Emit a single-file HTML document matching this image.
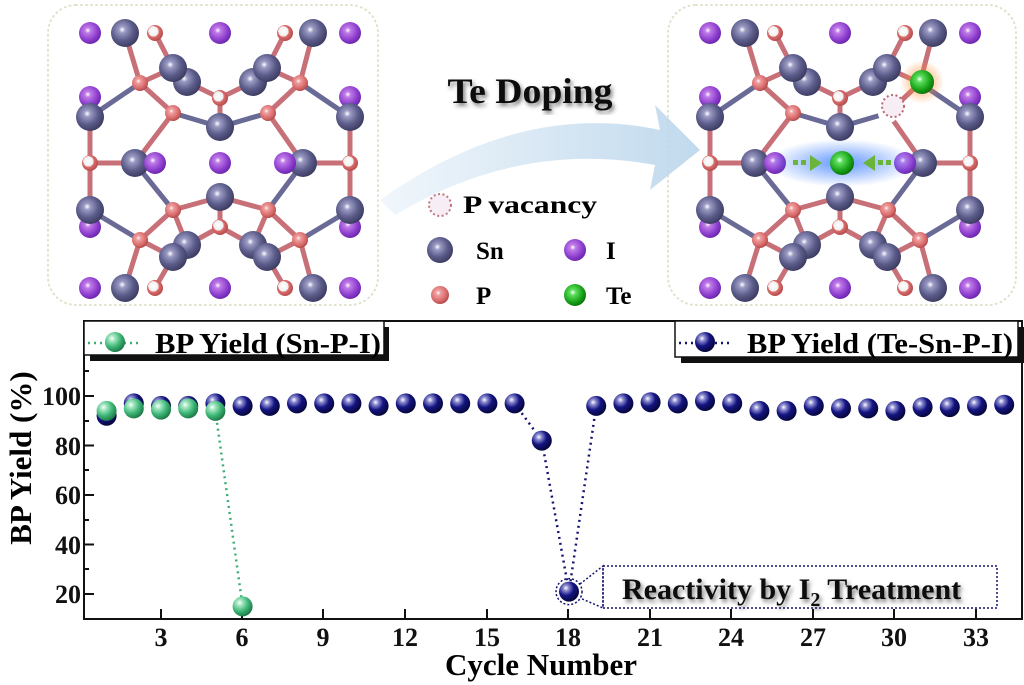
<!DOCTYPE html>
<html><head><meta charset="utf-8"><style>
body{margin:0;background:#fff;}
svg{display:block;font-family:"Liberation Serif",serif;font-weight:bold;}
</style></head><body>
<svg width="1024" height="685" viewBox="0 0 1024 685" xmlns="http://www.w3.org/2000/svg">
<defs>
<radialGradient id="gb" cx="35%" cy="32%" r="70%"><stop offset="0" stop-color="#fff"/><stop offset="0.2" stop-color="#8c8cd0"/><stop offset="0.55" stop-color="#141482"/><stop offset="1" stop-color="#06063a"/></radialGradient>
<radialGradient id="gg" cx="35%" cy="32%" r="70%"><stop offset="0" stop-color="#fff"/><stop offset="0.2" stop-color="#a8e8c4"/><stop offset="0.6" stop-color="#3fb878"/><stop offset="1" stop-color="#1e7a48"/></radialGradient>
<radialGradient id="gsn" cx="40%" cy="38%" r="65%"><stop offset="0" stop-color="#fff"/><stop offset="0.18" stop-color="#9a9ac4"/><stop offset="0.6" stop-color="#5c5c8a"/><stop offset="1" stop-color="#3a3a60"/></radialGradient>
<radialGradient id="gi" cx="40%" cy="38%" r="65%"><stop offset="0" stop-color="#fff"/><stop offset="0.2" stop-color="#c07ae8"/><stop offset="0.7" stop-color="#8a3ccc"/><stop offset="1" stop-color="#6a24a8"/></radialGradient>
<radialGradient id="gp" cx="40%" cy="38%" r="65%"><stop offset="0" stop-color="#fff"/><stop offset="0.2" stop-color="#f0a0a0"/><stop offset="0.7" stop-color="#d86a6a"/><stop offset="1" stop-color="#b04848"/></radialGradient>
<radialGradient id="gpw" cx="40%" cy="40%" r="65%"><stop offset="0" stop-color="#fff"/><stop offset="0.5" stop-color="#eee"/><stop offset="0.5" stop-color="#e07070"/><stop offset="1" stop-color="#b04848"/></radialGradient>
<radialGradient id="gte" cx="40%" cy="38%" r="65%"><stop offset="0" stop-color="#fff"/><stop offset="0.2" stop-color="#5ee05e"/><stop offset="0.7" stop-color="#17a017"/><stop offset="1" stop-color="#0a700a"/></radialGradient>
<radialGradient id="glowO"><stop offset="0" stop-color="#ff8a30" stop-opacity="0.8"/><stop offset="1" stop-color="#ff8a30" stop-opacity="0"/></radialGradient>
<radialGradient id="glowB"><stop offset="0" stop-color="#3a7cff" stop-opacity="0.8"/><stop offset="1" stop-color="#3a7cff" stop-opacity="0"/></radialGradient>
<linearGradient id="arr" x1="0" x2="1"><stop offset="0" stop-color="#eef5fb"/><stop offset="1" stop-color="#b6d3ea"/></linearGradient>
<filter id="sh"><feDropShadow dx="2" dy="3" stdDeviation="2" flood-color="#000" flood-opacity="0.5"/></filter>
<g id="mol">
<g stroke="#c77078" stroke-width="5" stroke-linecap="round">
<line x1="155" y1="33" x2="173" y2="68"/><line x1="125" y1="33" x2="140" y2="83"/><line x1="140" y1="83" x2="173" y2="68"/><line x1="140" y1="83" x2="173" y2="113"/><line x1="140" y1="83" x2="90" y2="117" stroke="#6a6a96"/><line x1="173" y1="113" x2="220" y2="127" stroke="#6a6a96"/><line x1="187" y1="82" x2="220" y2="98"/><line x1="220" y1="98" x2="253" y2="82"/><line x1="220" y1="98" x2="220" y2="127"/><line x1="268" y1="113" x2="220" y2="127" stroke="#6a6a96"/><line x1="268" y1="113" x2="300" y2="83"/><line x1="300" y1="83" x2="267" y2="68"/><line x1="300" y1="83" x2="313" y2="33"/><line x1="285" y1="33" x2="267" y2="68"/><line x1="300" y1="83" x2="350" y2="117" stroke="#6a6a96"/><line x1="90" y1="117" x2="90" y2="210"/><line x1="90" y1="163" x2="135" y2="163"/><line x1="173" y1="113" x2="135" y2="163"/><line x1="268" y1="113" x2="303" y2="163"/><line x1="350" y1="117" x2="350" y2="210"/><line x1="350" y1="163" x2="303" y2="163"/><line x1="135" y1="163" x2="173" y2="210" stroke="#6a6a96"/><line x1="303" y1="163" x2="268" y2="210" stroke="#6a6a96"/><line x1="173" y1="210" x2="220" y2="197"/><line x1="268" y1="210" x2="220" y2="197"/><line x1="220" y1="197" x2="220" y2="227"/><line x1="173" y1="210" x2="140" y2="240"/><line x1="173" y1="210" x2="187" y2="245"/><line x1="140" y1="240" x2="90" y2="210" stroke="#6a6a96"/><line x1="140" y1="240" x2="173" y2="257"/><line x1="140" y1="240" x2="125" y2="288"/><line x1="155" y1="288" x2="173" y2="257"/><line x1="220" y1="227" x2="187" y2="245"/><line x1="220" y1="227" x2="253" y2="245"/><line x1="268" y1="210" x2="300" y2="240"/><line x1="300" y1="240" x2="350" y2="210" stroke="#6a6a96"/><line x1="300" y1="240" x2="267" y2="257"/><line x1="300" y1="240" x2="313" y2="288"/><line x1="285" y1="288" x2="267" y2="257"/><line x1="268" y1="210" x2="253" y2="245"/>
</g>
<g fill="url(#gi)"><circle cx="90" cy="33" r="11"/><circle cx="220" cy="33" r="11"/><circle cx="350" cy="33" r="11"/><circle cx="90" cy="97" r="11"/><circle cx="350" cy="97" r="11"/><circle cx="90" cy="227" r="11"/><circle cx="350" cy="227" r="11"/><circle cx="90" cy="288" r="11"/><circle cx="220" cy="288" r="11"/><circle cx="350" cy="288" r="11"/></g>
<g fill="url(#gsn)"><circle cx="187" cy="82" r="14"/><circle cx="253" cy="82" r="14"/><circle cx="187" cy="245" r="14"/><circle cx="253" cy="245" r="14"/><circle cx="125" cy="33" r="14"/><circle cx="313" cy="33" r="14"/><circle cx="173" cy="68" r="14"/><circle cx="267" cy="68" r="14"/><circle cx="90" cy="117" r="14"/><circle cx="350" cy="117" r="14"/><circle cx="220" cy="127" r="14"/><circle cx="135" cy="163" r="14"/><circle cx="303" cy="163" r="14"/><circle cx="220" cy="197" r="14"/><circle cx="90" cy="210" r="14"/><circle cx="350" cy="210" r="14"/><circle cx="173" cy="257" r="14"/><circle cx="267" cy="257" r="14"/><circle cx="125" cy="288" r="14"/><circle cx="313" cy="288" r="14"/></g>
<g fill="url(#gi)"><circle cx="155" cy="163" r="11"/><circle cx="285" cy="163" r="11"/></g>
<g fill="url(#gp)"><circle cx="140" cy="83" r="8"/><circle cx="173" cy="113" r="8"/><circle cx="268" cy="113" r="8"/><circle cx="300" cy="83" r="8"/><circle cx="173" cy="210" r="8"/><circle cx="268" cy="210" r="8"/><circle cx="140" cy="240" r="8"/><circle cx="300" cy="240" r="8"/></g>
<g fill="url(#gpw)"><circle cx="155" cy="33" r="8"/><circle cx="285" cy="33" r="8"/><circle cx="220" cy="98" r="8"/><circle cx="90" cy="163" r="8"/><circle cx="350" cy="163" r="8"/><circle cx="220" cy="227" r="8"/><circle cx="155" cy="288" r="8"/><circle cx="285" cy="288" r="8"/></g>
</g>
</defs>

<rect x="48" y="5" width="330" height="300" rx="28" fill="none" stroke="#dfe3cc" stroke-width="2" stroke-dasharray="1 4" stroke-linecap="round"/>
<rect x="668" y="5" width="348" height="300" rx="28" fill="none" stroke="#dfe3cc" stroke-width="2" stroke-dasharray="1 4" stroke-linecap="round"/>

<path d="M380 200 Q520 100 660 130 L655 105 L700 150 L650 190 L655 165 Q520 140 395 215 Z" fill="url(#arr)" opacity="0.85"/>
<text x="530" y="103" font-size="36" text-anchor="middle" fill="#111" filter="url(#sh)" textLength="165" lengthAdjust="spacingAndGlyphs">Te Doping</text>

<use href="#mol"/>
<use href="#mol" transform="translate(620,0)"/>
<circle cx="220" cy="163" r="11" fill="url(#gi)"/>
<ellipse cx="842" cy="163" rx="75" ry="24" fill="url(#glowB)"/>
<circle cx="842" cy="163" r="12" fill="url(#gte)"/>
<g fill="#6ab43a"><rect x="793" y="160" width="5" height="5"/><rect x="801" y="160" width="5" height="5"/><path d="M810 155 L822 163 L810 171Z"/><rect x="886" y="160" width="5" height="5"/><rect x="878" y="160" width="5" height="5"/><path d="M875 155 L863 163 L875 171Z"/></g>
<circle cx="922" cy="82" r="22" fill="url(#glowO)"/>
<circle cx="922" cy="82" r="12" fill="url(#gte)"/>
<circle cx="888" cy="113" r="10" fill="#fff"/>
<circle cx="893" cy="106" r="11" fill="#f6eef4" stroke="#b86a76" stroke-width="2" stroke-dasharray="2 2.5"/>

<circle cx="440" cy="205" r="11" fill="#f6eef4" stroke="#c07880" stroke-width="2" stroke-dasharray="2 2.5"/>
<text x="463" y="213" font-size="25" textLength="134" lengthAdjust="spacingAndGlyphs">P vacancy</text>
<circle cx="440" cy="250" r="13" fill="url(#gsn)"/><text x="476" y="259" font-size="25">Sn</text>
<circle cx="575" cy="250" r="11" fill="url(#gi)"/><text x="606" y="259" font-size="25">I</text>
<circle cx="440" cy="295" r="9" fill="url(#gp)"/><text x="476" y="304" font-size="25">P</text>
<circle cx="575" cy="295" r="11" fill="url(#gte)"/><text x="606" y="304" font-size="25">Te</text>

<rect x="84" y="321" width="938" height="298" fill="none" stroke="#111" stroke-width="2"/>
<g stroke="#111" stroke-width="2">
<line x1="84" y1="396" x2="94" y2="396"/><line x1="84" y1="445.5" x2="94" y2="445.5"/><line x1="84" y1="495" x2="94" y2="495"/><line x1="84" y1="544.5" x2="94" y2="544.5"/><line x1="84" y1="594" x2="94" y2="594"/>
<line x1="84" y1="371" x2="89" y2="371"/><line x1="84" y1="421" x2="89" y2="421"/><line x1="84" y1="470" x2="89" y2="470"/><line x1="84" y1="520" x2="89" y2="520"/><line x1="84" y1="569" x2="89" y2="569"/>
<line x1="161" y1="619" x2="161" y2="609"/><line x1="242" y1="619" x2="242" y2="609"/><line x1="323" y1="619" x2="323" y2="609"/><line x1="405" y1="619" x2="405" y2="609"/><line x1="487" y1="619" x2="487" y2="609"/><line x1="568" y1="619" x2="568" y2="609"/><line x1="650" y1="619" x2="650" y2="609"/><line x1="731" y1="619" x2="731" y2="609"/><line x1="813" y1="619" x2="813" y2="609"/><line x1="894" y1="619" x2="894" y2="609"/><line x1="976" y1="619" x2="976" y2="609"/>
</g>
<g font-size="26" text-anchor="end" fill="#111"><text x="81" y="405">100</text><text x="81" y="455">80</text><text x="81" y="504">60</text><text x="81" y="554">40</text><text x="81" y="603">20</text></g>
<g font-size="26" text-anchor="middle" fill="#111"><text x="161" y="646">3</text><text x="242" y="646">6</text><text x="323" y="646">9</text><text x="405" y="646">12</text><text x="487" y="646">15</text><text x="568" y="646">18</text><text x="650" y="646">21</text><text x="731" y="646">24</text><text x="813" y="646">27</text><text x="894" y="646">30</text><text x="976" y="646">33</text></g>
<text x="541" y="675" font-size="31" text-anchor="middle">Cycle Number</text>
<text transform="translate(31,458) rotate(-90)" font-size="31" text-anchor="middle">BP Yield (%)</text>

<polyline points="514.6,403.4 541.8,440.6 569,591.6 596.2,405.9" fill="none" stroke="#141470" stroke-width="2.5" stroke-dasharray="2 4"/>
<polyline points="215.4,410.9 242.6,606.4" fill="none" stroke="#3fae74" stroke-width="2.5" stroke-dasharray="2 4"/>
<g fill="url(#gb)">
<circle cx="106.6" cy="415.8" r="10"/><circle cx="133.8" cy="403.4" r="10"/><circle cx="161" cy="405.9" r="10"/><circle cx="188.2" cy="405.9" r="10"/><circle cx="215.4" cy="403.4" r="10"/><circle cx="242.6" cy="405.9" r="10"/><circle cx="269.8" cy="405.9" r="10"/><circle cx="297" cy="403.4" r="10"/><circle cx="324.2" cy="403.4" r="10"/><circle cx="351.4" cy="403.4" r="10"/><circle cx="378.6" cy="405.9" r="10"/><circle cx="405.8" cy="403.4" r="10"/><circle cx="433" cy="403.4" r="10"/><circle cx="460.2" cy="403.4" r="10"/><circle cx="487.4" cy="403.4" r="10"/><circle cx="514.6" cy="403.4" r="10"/><circle cx="541.8" cy="440.6" r="10"/><circle cx="569" cy="591.6" r="10"/><circle cx="596.2" cy="405.9" r="10"/><circle cx="623.4" cy="403.4" r="10"/><circle cx="650.6" cy="402.2" r="10"/><circle cx="677.8" cy="403.4" r="10"/><circle cx="705" cy="401" r="10"/><circle cx="732.2" cy="403.4" r="10"/><circle cx="759.4" cy="410.9" r="10"/><circle cx="786.6" cy="410.9" r="10"/><circle cx="813.8" cy="405.9" r="10"/><circle cx="841" cy="408.4" r="10"/><circle cx="868.2" cy="408.4" r="10"/><circle cx="895.4" cy="410.9" r="10"/><circle cx="922.6" cy="407.1" r="10"/><circle cx="949.8" cy="407.1" r="10"/><circle cx="977" cy="405.9" r="10"/><circle cx="1004.2" cy="404.7" r="10"/>
</g>
<circle cx="569" cy="591.6" r="13" fill="none" stroke="#141470" stroke-width="1.5" stroke-dasharray="2 2"/>
<g fill="url(#gg)">
<circle cx="106.6" cy="410.9" r="10"/><circle cx="133.8" cy="408.4" r="10"/><circle cx="161" cy="409.6" r="10"/><circle cx="188.2" cy="408.4" r="10"/><circle cx="215.4" cy="410.9" r="10"/><circle cx="242.6" cy="606.4" r="10"/>
</g>

<polyline points="580,584 603,566 603,608 580,598" fill="none" stroke="#141470" stroke-width="1.5" stroke-dasharray="2 2"/>
<rect x="603" y="566" width="394" height="42" fill="none" stroke="#141470" stroke-width="1.5" stroke-dasharray="2 2"/>
<text x="622" y="599" font-size="30" fill="#111" filter="url(#sh)">Reactivity by I<tspan font-size="20" dy="7">2</tspan><tspan dy="-7"> Treatment</tspan></text>

<rect x="90" y="327" width="299" height="34" fill="#111"/>
<rect x="84" y="321" width="300" height="34" fill="#fff" stroke="#111" stroke-width="1.5"/>
<line x1="88" y1="343" x2="138" y2="343" stroke="#3fae74" stroke-width="2.5" stroke-dasharray="2 4"/>
<circle cx="115" cy="342" r="10" fill="url(#gg)"/>
<text x="155" y="353" font-size="29" textLength="226" lengthAdjust="spacingAndGlyphs">BP Yield (Sn-P-I)</text>
<rect x="681" y="327" width="343" height="36" fill="#111"/>
<rect x="675" y="321" width="343" height="36" fill="#fff" stroke="#111" stroke-width="1.5"/>
<line x1="679" y1="343" x2="730" y2="343" stroke="#141470" stroke-width="2.5" stroke-dasharray="2 4"/>
<circle cx="705" cy="342" r="10" fill="url(#gb)"/>
<text x="747" y="353" font-size="29" textLength="266" lengthAdjust="spacingAndGlyphs">BP Yield (Te-Sn-P-I)</text>
</svg>
</body></html>
